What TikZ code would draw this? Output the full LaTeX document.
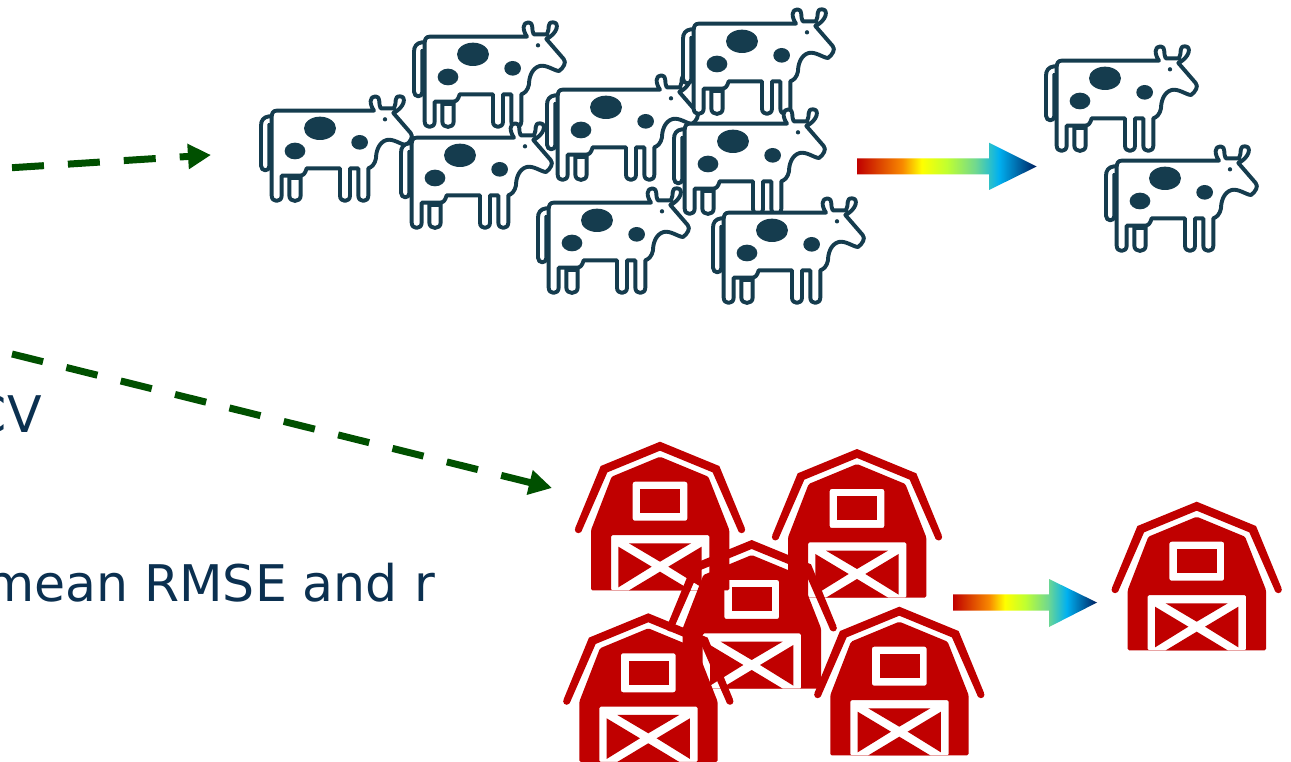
\documentclass[tikz,border=0pt]{standalone}
\usepackage{fontspec}
\setmainfont{DejaVu Sans}
\usetikzlibrary{arrows.meta}
\definecolor{cowdark}{HTML}{153C4E}
\definecolor{barnred}{HTML}{C00000}
\definecolor{arrowgreen}{HTML}{005000}
\definecolor{labelblue}{HTML}{0B3050}
\definecolor{hbOrange}{HTML}{F88800}
\definecolor{hbYellow}{HTML}{FFFF00}
\definecolor{hbLime}{HTML}{C0FF30}
\definecolor{hbMint}{HTML}{70D890}
\definecolor{hbCyan}{HTML}{00B0F0}
\definecolor{hbDeep}{HTML}{002060}
\pgfdeclarehorizontalshading{heatbar}{100bp}{
  color(0bp)=(barnred);
  color(25bp)=(barnred);
  color(37.5bp)=(hbOrange);
  color(43bp)=(hbYellow);
  color(50bp)=(hbLime);
  color(58bp)=(hbMint);
  color(64.5bp)=(hbCyan);
  color(75bp)=(hbDeep);
  color(100bp)=(hbDeep)
}
\tikzset{
  cowline/.style={draw=cowdark,line width=3.9pt,fill=white,line join=round},
  cowspot/.style={fill=cowdark},
  barnink/.style={fill=barnred},
  dashgreen/.style={draw=arrowgreen,line width=7pt,dash pattern=on 32pt off 24pt,-{Triangle[length=23pt,width=24pt,fill=arrowgreen]}},
  biglabel/.style={text=labelblue,font=\fontsize{50.5}{60}\selectfont,inner sep=0pt},
}
\newcommand{\cowicon}[2]{%
\begin{scope}[shift={(#1,#2)},x=0.3333pt,y=-0.3333pt,shift={(-110,-108)}]
  % tail
  \draw[cowline] (152,172) -- (137,172) .. controls (120,174) and (113,185) .. (113,200) -- (113,320) .. controls (113,338) and (138,338) .. (138,322) -- (138,195);
  % small leg
  \draw[cowline] (198,350) -- (198,410) .. controls (198,431) and (232,431) .. (232,410) -- (232,350);
  % body
  \draw[cowline] (160,155) -- (452,155)
    .. controls (438,135) and (438,112) .. (456,112)
    .. controls (474,112) and (464,135) .. (472,148) -- (512,148)
    .. controls (522,130) and (510,112) .. (530,112)
    .. controls (550,112) and (545,145) .. (510,162)
    -- (562,222) .. controls (572,232) and (560,250) .. (548,258)
    .. controls (535,258) and (510,238) .. (490,243)
    .. controls (465,250) and (458,280) .. (458,298)
    .. controls (455,315) and (445,325) .. (435,328)
    -- (435,410) .. controls (435,431) and (405,431) .. (405,410)
    -- (405,328) -- (380,328) -- (380,410) .. controls (380,431) and (350,431) .. (350,410)
    -- (350,328) -- (250,328) .. controls (245,345) and (240,350) .. (228,350)
    -- (175,350) -- (175,410) .. controls (175,431) and (145,431) .. (145,410)
    -- (145,175) .. controls (145,162) and (150,155) .. (160,155) -- cycle;
  \fill[cowspot] (134,192) rectangle (150,326);
  \fill[cowspot] (196,352) rectangle (234,364);
  \fill[cowspot] (290,208) ellipse [x radius=48,y radius=35];
  \fill[cowspot] (215,276) ellipse [x radius=31,y radius=25];
  \fill[cowspot] (409,250) ellipse [x radius=25,y radius=22];
  \fill[cowspot] (485,181) circle (6.5);
\end{scope}}
\newcommand{\barnicon}[2]{%
\begin{scope}[shift={(#1,#2)},x=0.3333pt,y=-0.3333pt,shift={(-290,-20)}]
  % roof band
  \fill[barnink] (36,278) -- (112,93) -- (290,20) -- (468,93) -- (544,278) -- (526,290) -- (448,112) -- (290,47) -- (132,112) -- (54,290) -- cycle;
  \fill[barnink] (45,284) circle (10.5);
  \fill[barnink] (535,284) circle (10.5);
  % body with see-through window frame and door frame
  \fill[barnink,even odd rule]
    [rounded corners=1.5pt] (83,466) -- (83,285) -- (145,125) -- (290,65) -- (435,125) -- (498,285) -- (498,466) -- cycle
    [rounded corners=2pt] (208,140) -- (372,140) -- (372,257) -- (208,257) -- cycle
    [rounded corners=1.5pt] (143,467) -- (143,300) -- (438,300) -- (438,467) -- cycle;
  \fill[barnink] (231,162) rectangle (351,234);
  \fill[barnink] (197,325) -- (383,325) -- (290,380) -- cycle;
  \fill[barnink] (165,335) -- (165,457) -- (265,395) -- cycle;
  \fill[barnink] (415,335) -- (415,457) -- (315,395) -- cycle;
  \fill[barnink] (290,410) -- (383,466) -- (197,466) -- cycle;
\end{scope}}
\begin{document}
\begin{tikzpicture}[x=1pt,y=-1pt]
\useasboundingbox (0,0) rectangle (1291,762);
\clip (0,0) rectangle (1291,762);
\fill[white] (0,0) rectangle (1291,762);
% text
\node[biglabel,anchor=base east] (cvlabel) at (42,432.5) {CV};
\node[biglabel,anchor=base east] (rmselabel) at (435,601) {mean RMSE and r};
% dashed arrows
\coordinate (gaS) at (12,167.7);
\coordinate (gaE) at (211,155);
\coordinate (gbS) at (12,354);
\coordinate (gbE) at (552,488);
\draw[dashgreen] (gaS) -- (gaE);
\draw[dashgreen] (gbS) -- (gbE);
% cow herd
\cowicon{260}{95}
\cowicon{413}{21}
\cowicon{400}{122}
\cowicon{546}{74}
\cowicon{682}{8}
\cowicon{537}{187}
\cowicon{673}{108}
\cowicon{712}{197}
% selected cows
\cowicon{1045}{45}
\cowicon{1105}{145}
% gradient arrows
\path[shading=heatbar] (857,158.3) -- (989,158.3) -- (989,142.7) -- (1036.7,166.5) -- (989,190) -- (989,174.5) -- (857,174.5) -- cycle;
\path[shading=heatbar] (953,594.3) -- (1049,594.3) -- (1049,579) -- (1097,602.5) -- (1049,627) -- (1049,610.5) -- (953,610.5) -- cycle;
% barns
\barnicon{660}{441.7}
\barnicon{857}{449}
\barnicon{751.7}{540}
\barnicon{648.3}{613.3}
\barnicon{899.3}{606.7}
\barnicon{1196.7}{501.7}
\end{tikzpicture}
\end{document}
